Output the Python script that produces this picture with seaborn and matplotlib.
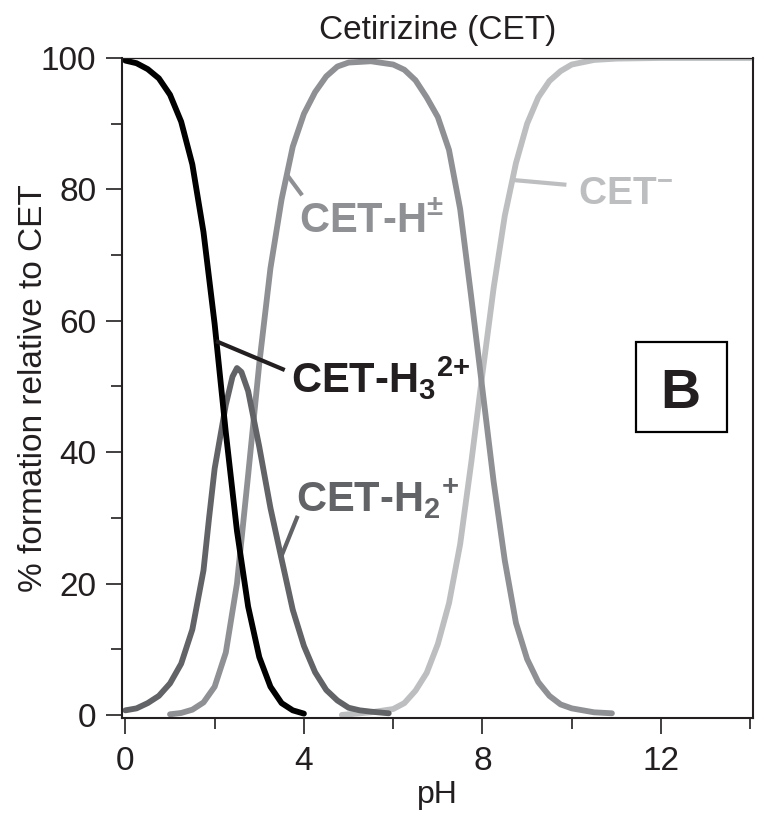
import numpy as np
import pandas as pd
import matplotlib
matplotlib.use('Agg')
import matplotlib.pyplot as plt
import seaborn as sns
from matplotlib.patches import Rectangle

# Fracciones de especies (% formacion)
ph_h3 = [0, 0.25, 0.5, 0.75, 1.0, 1.25, 1.5, 1.75, 2.0, 2.25, 2.5, 2.75, 3.0, 3.25, 3.5, 3.75, 4.0]
pct_h3 = [99.6, 99.2, 98.3, 96.9, 94.4, 90.3, 83.8, 73.5, 59.5, 43.0, 28.0, 16.5, 8.8, 4.3, 1.8, 0.7, 0.2]

ph_h2 = [0, 0.25, 0.5, 0.75, 1.0, 1.25, 1.5, 1.75, 1.875, 2.0, 2.25, 2.4, 2.5, 2.6, 2.75, 3.0, 3.25,
         3.5, 3.75, 4.0, 4.25, 4.5, 4.75, 5.0, 5.25, 5.5, 5.9]
pct_h2 = [0.7, 1.0, 1.8, 2.9, 4.8, 7.8, 13.0, 22.0, 30.0, 37.5, 47.2, 51.5, 52.8, 52.2, 49.3, 40.8, 31.5,
          23.7, 16.0, 10.5, 6.5, 3.8, 2.2, 1.1, 0.7, 0.5, 0.25]

ph_hpm = [1.0, 1.25, 1.5, 1.75, 2.0, 2.25, 2.5, 2.75, 3.0, 3.25, 3.5, 3.75, 4.0, 4.25, 4.5, 4.75,
          5.0, 5.5, 6.0, 6.25, 6.5, 6.75, 7.0, 7.25, 7.5, 7.75, 8.0, 8.25, 8.5, 8.75, 9.0, 9.25,
          9.5, 9.75, 10.0, 10.5, 10.9]
pct_hpm = [0.1, 0.3, 0.8, 1.9, 4.3, 9.5, 20.0, 36.5, 53.5, 68.0, 78.5, 86.5, 91.5, 94.8, 97.2, 98.7,
           99.3, 99.5, 99.0, 98.2, 96.6, 94.0, 91.0, 86.0, 77.0, 63.5, 49.5, 35.5, 23.5, 14.0, 8.5, 5.0,
           2.9, 1.6, 1.0, 0.4, 0.25]

ph_cet = [4.85, 5.0, 5.5, 6.0, 6.25, 6.5, 6.75, 7.0, 7.25, 7.5, 7.75, 8.0, 8.25, 8.5, 8.75, 9.0,
          9.25, 9.5, 9.75, 10.0, 10.5, 11.0, 12.0, 13.0, 14.0]
pct_cet = [0.0, 0.1, 0.4, 0.9, 1.8, 3.7, 6.4, 10.8, 17.0, 26.0, 38.5, 52.0, 65.0, 76.0, 84.0, 90.0,
           94.0, 96.5, 98.0, 99.0, 99.7, 99.9, 100.0, 100.0, 100.0]

species = ['CET-', 'CET-H+-', 'CET-H2+', 'CET-H3 2+']
colores = {'CET-H3 2+': '#000000', 'CET-H2+': '#626366', 'CET-H+-': '#8e9094', 'CET-': '#bcbec0'}

df = pd.concat([
    pd.DataFrame({'pH': ph_cet, 'pct': pct_cet, 'species': 'CET-'}),
    pd.DataFrame({'pH': ph_hpm, 'pct': pct_hpm, 'species': 'CET-H+-'}),
    pd.DataFrame({'pH': ph_h2, 'pct': pct_h2, 'species': 'CET-H2+'}),
    pd.DataFrame({'pH': ph_h3, 'pct': pct_h3, 'species': 'CET-H3 2+'}),
], ignore_index=True)

sns.set_style('ticks')
plt.rcParams['font.family'] = ['Liberation Sans', 'DejaVu Sans']
plt.rcParams['mathtext.fontset'] = 'custom'
plt.rcParams['mathtext.rm'] = 'Liberation Sans:bold'
plt.rcParams['mathtext.bf'] = 'Liberation Sans:bold'
plt.rcParams['mathtext.default'] = 'bf'

oscuro = '#231f20'

fig = plt.figure(figsize=(7.57, 8.21), dpi=100)
ax = fig.add_axes([0.1612, 0.1255, 0.8335, 0.8039])

sns.lineplot(data=df, x='pH', y='pct', hue='species', hue_order=species, palette=colores,
             linewidth=4.2, legend=False, ax=ax, estimator=None, solid_capstyle='round')

ax.set_xlim(-0.075, 14.06)
ax.set_ylim(-0.46, 100)
ax.set_xticks([0, 4, 8, 12])
ax.set_xticks([2, 6, 10, 14], minor=True)
ax.set_yticks([0, 20, 40, 60, 80, 100])
ax.set_yticks([10, 30, 50, 70, 90], minor=True)
ax.tick_params(which='major', length=11.5, width=1.2, color=oscuro, labelsize=24,
               labelcolor=oscuro, direction='out')
ax.tick_params(which='minor', length=8, width=1.2, color=oscuro, direction='out')
ax.tick_params(axis='y', which='major', pad=7)
ax.tick_params(axis='x', which='major', pad=9)

for lado in ['left', 'bottom', 'right']:
    ax.spines[lado].set_linewidth(1.5)
    ax.spines[lado].set_color(oscuro)
ax.spines['top'].set_linewidth(0.9)
ax.spines['top'].set_color(oscuro)

ax.set_xlabel('pH', fontsize=23, color=oscuro, labelpad=2)
ax.set_ylabel('% formation relative to CET', fontsize=24, color=oscuro)
ax.yaxis.set_label_coords(-0.1157, 0.5)
ax.set_title('Cetirizine (CET)', fontsize=24, color=oscuro, pad=14)

# Etiquetas de especies con lineas guia
ax.plot([2.03, 3.57], [56.9, 52.5], color=oscuro, lw=3, solid_capstyle='butt')
ax.text(3.72, 49.0, 'CET-H$_3{}^{2{+}}$', fontsize=30, fontweight='bold', color=oscuro,
        ha='left', va='baseline')

ax.plot([3.48, 3.86], [23.9, 30.3], color='#626366', lw=3, solid_capstyle='butt')
ax.text(3.83, 30.9, 'CET-H$_2{}^{+}$', fontsize=30, fontweight='bold', color='#626366',
        ha='left', va='baseline')

ax.plot([3.60, 3.96], [82.4, 79.1], color='#8e9094', lw=3, solid_capstyle='butt')
ax.text(3.90, 73.5, 'CET-H$^{\\pm}$', fontsize=30, fontweight='bold', color='#8e9094',
        ha='left', va='baseline')

ax.plot([8.72, 9.88], [81.4, 80.7], color='#bcbec0', lw=3, solid_capstyle='butt')
ax.text(10.13, 77.8, 'CET$^{-}$', fontsize=28, fontweight='bold', color='#bcbec0',
        ha='left', va='baseline')

# Recuadro "B"
ax.add_patch(Rectangle((11.43, 43.1), 2.04, 13.7, fill=False, edgecolor='black', lw=1.6))
ax.text(12.44, 46.7, 'B', fontsize=40, fontweight='bold', color=oscuro, ha='center', va='baseline')

fig.savefig('out.png', dpi=100)
